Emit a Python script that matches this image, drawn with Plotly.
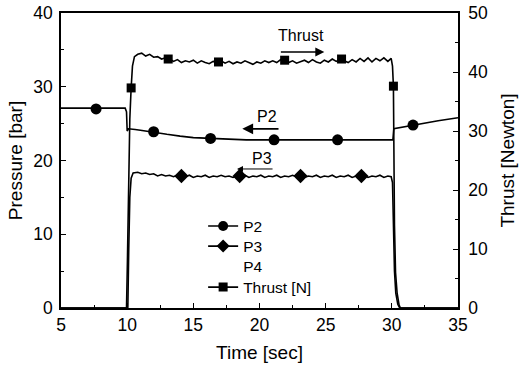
import plotly.graph_objects as go

# ---- data ----
thrust_t = [5.0, 9.95, 10.02, 10.1, 10.2, 10.3, 10.4, 10.55, 10.8, 11.1, 11.4, 11.7, 12.0, 12.3, 12.6,
            12.9, 13.2, 13.5, 13.8, 14.1, 14.4, 14.7, 15.0, 15.3, 15.6, 15.9, 16.2, 16.5, 16.8,
            17.1, 17.4, 17.7, 18.0, 18.3, 18.6, 18.9, 19.2, 19.5, 19.8, 20.1, 20.4, 20.7, 21.0,
            21.3, 21.6, 21.9, 22.2, 22.5, 22.8, 23.1, 23.4, 23.7, 24.0, 24.3, 24.6, 24.9, 25.2,
            25.5, 25.8, 26.1, 26.4, 26.7, 27.0, 27.3, 27.6, 27.9, 28.2, 28.5, 28.8, 29.1, 29.4,
            29.7, 29.95, 30.05, 30.12, 30.15, 30.2, 30.28, 30.4, 30.55, 30.65, 35.0]
thrust_v = [0, 0, 8, 22, 32, 37.3, 41.0, 42.6, 43.0, 43.2, 42.7, 43.0, 42.5, 42.6, 42.2,
            42.4, 42.2, 41.8, 42.1, 41.6, 41.9, 41.7, 42.0, 41.5, 41.9, 41.6, 41.4, 41.8, 41.7,
            41.9, 41.5, 41.8, 41.4, 41.7, 41.5, 41.9, 41.6, 41.3, 41.7, 41.5, 41.9, 41.6, 41.9,
            41.6, 42.1, 42.0, 41.6, 41.9, 41.5, 41.8, 42.0, 41.6, 42.1, 41.7, 41.5, 42.0, 41.7,
            42.2, 41.8, 42.2, 41.9, 41.6, 42.1, 41.7, 42.3, 41.8, 42.4, 41.7, 42.3, 41.9, 42.4,
            41.8, 42.3, 41.0, 37.6, 25.0, 14.0, 6.0, 2.5, 0.5, 0, 0]
thrust_mark_t = [10.3, 13.1, 16.9, 21.9, 26.2, 30.12]
thrust_mark_v = [37.3, 42.2, 41.7, 42.0, 42.2, 37.6]

p2_t = [5.0, 9.85, 9.95, 10.0, 10.1, 10.3, 10.6, 11.0, 11.5, 12.0, 12.5, 13.0, 13.5, 14.0, 15.0,
        16.0, 17.0, 18.0, 19.0, 20.0, 22.0, 24.0, 26.0, 28.0, 30.0, 30.08, 30.15, 31.0, 31.6,
        32.5, 33.5, 35.0]
p2_v = [27.1, 27.1, 26.6, 24.0, 24.3, 24.3, 24.2, 24.1, 24.0, 23.85, 23.7, 23.55, 23.4, 23.3, 23.1,
        23.0, 22.9, 22.85, 22.8, 22.8, 22.8, 22.8, 22.8, 22.8, 22.8, 22.8, 24.3, 24.6, 24.8,
        25.1, 25.4, 25.8]
p2_mark_t = [7.65, 12.0, 16.3, 21.1, 25.9, 31.6]
p2_mark_v = [27.0, 23.9, 23.0, 22.8, 22.8, 24.8]

p3_t = [5.0, 10.05, 10.12, 10.2, 10.3, 10.45, 10.8, 11.1, 11.4, 11.7, 12.0, 12.3, 12.6, 12.9,
        13.2, 13.5, 13.8, 14.1, 14.4, 14.7, 15.0, 15.3, 15.6, 15.9, 16.2, 16.5, 16.8, 17.1,
        17.4, 17.7, 18.0, 18.3, 18.6, 18.9, 19.2, 19.5, 19.8, 20.1, 20.4, 20.7, 21.0, 21.3,
        21.6, 21.9, 22.2, 22.5, 22.8, 23.1, 23.4, 23.7, 24.0, 24.3, 24.6, 24.9, 25.2, 25.5,
        25.8, 26.1, 26.4, 26.7, 27.0, 27.3, 27.6, 27.9, 28.2, 28.5, 28.8, 29.1, 29.4, 29.7,
        29.95, 30.05, 30.12, 30.2, 30.3, 30.45, 30.6, 35.0]
p3_v = [0, 0, 8, 15, 17.6, 18.3, 18.4, 18.2, 18.3, 18.1, 18.2, 17.9, 18.1, 17.9,
        18.0, 17.8, 18.0, 17.9, 17.8, 18.0, 17.7, 17.9, 17.8, 18.0, 17.7, 17.9, 17.8, 18.0,
        17.8, 17.9, 17.7, 17.9, 17.8, 18.0, 17.7, 17.9, 17.8, 18.0, 17.7, 17.9, 17.8, 18.0,
        17.7, 17.9, 17.8, 18.0, 17.8, 17.9, 17.7, 17.9, 17.8, 18.0, 17.7, 17.9, 17.8, 18.0,
        17.7, 17.9, 17.8, 18.0, 17.7, 17.9, 17.8, 18.0, 17.7, 17.9, 17.8, 18.0, 17.7, 17.9,
        17.8, 17.0, 10.0, 5.0, 2.0, 0.5, 0, 0]
p3_mark_t = [14.1, 18.5, 23.1, 27.7]
p3_mark_v = [17.9, 17.9, 17.9, 17.9]

legend_names = ["P2", "P3", "P4", "Thrust [N]"]
x_ticks = [5, 10, 15, 20, 25, 30, 35]
p_ticks = [0, 10, 20, 30, 40]
f_ticks = [0, 10, 20, 30, 40, 50]

FONT = "Liberation Sans, Arial, sans-serif"
K = "black"
LW = 1.6

fig = go.Figure()
# curves
fig.add_trace(go.Scatter(x=p2_t, y=p2_v, mode="lines", line=dict(color=K, width=LW), showlegend=False))
fig.add_trace(go.Scatter(x=p3_t, y=p3_v, mode="lines", line=dict(color=K, width=LW), showlegend=False))
fig.add_trace(go.Scatter(x=thrust_t, y=thrust_v, mode="lines", line=dict(color=K, width=LW),
                         yaxis="y2", showlegend=False))
# markers
fig.add_trace(go.Scatter(x=p2_mark_t, y=p2_mark_v, mode="markers",
                         marker=dict(symbol="circle", size=11, color=K), showlegend=False))
fig.add_trace(go.Scatter(x=p3_mark_t, y=p3_mark_v, mode="markers",
                         marker=dict(symbol="diamond", size=11, color=K), showlegend=False))
fig.add_trace(go.Scatter(x=thrust_mark_t, y=thrust_mark_v, mode="markers", yaxis="y2",
                         marker=dict(symbol="square", size=9, color=K), showlegend=False))
# legend entries (one small legend each so the rows sit where the reference has them)
fig.add_trace(go.Scatter(x=[None], y=[None], mode="lines+markers", name=legend_names[0], legend="legend",
                         line=dict(color=K, width=LW), marker=dict(symbol="circle", size=10, color=K)))
fig.add_trace(go.Scatter(x=[None], y=[None], mode="lines+markers", name=legend_names[1], legend="legend2",
                         line=dict(color=K, width=LW), marker=dict(symbol="diamond", size=10, color=K)))
fig.add_trace(go.Scatter(x=[None], y=[None], mode="lines", name=legend_names[2], legend="legend3",
                         line=dict(color="rgba(0,0,0,0)", width=LW)))
fig.add_trace(go.Scatter(x=[None], y=[None], mode="lines+markers", name=legend_names[3], legend="legend4",
                         line=dict(color=K, width=LW), marker=dict(symbol="square", size=9, color=K)))

# annotations: arrows and labels
arrows = [  # (head_x, tail_x, y, width)
    (24.9, 21.5, 34.7, 1.5),
    (18.7, 21.55, 24.3, 1.8),
    (18.3, 21.1, 18.85, 1.0),
]
for hx, tx, yy, w in arrows:
    fig.add_annotation(x=hx, y=yy, ax=tx, ay=yy, xref="x", yref="y", axref="x", ayref="y",
                       text="", showarrow=True, arrowhead=2, arrowsize=1.2, arrowwidth=w,
                       arrowcolor=K, standoff=0, startstandoff=0)
labels = [("Thrust", 23.1, 37.0), ("P2", 20.6, 26.0), ("P3", 20.2, 20.3)]
for txt, lx, ly in labels:
    fig.add_annotation(x=lx, y=ly, xref="x", yref="y", text=txt, showarrow=False,
                       font=dict(family=FONT, size=16, color=K))

axis_common = dict(showgrid=False, zeroline=False, showline=True, linecolor=K, linewidth=1.5,
                   ticks="inside", ticklen=5, tickwidth=1, tickcolor=K, automargin=False,
                   tickfont=dict(family=FONT, size=17.5, color=K))
TF = dict(family=FONT, size=19, color=K)

def leg(ypos):
    return dict(x=0.358, y=ypos, xanchor="left", yanchor="top", bgcolor="rgba(0,0,0,0)",
                font=dict(family=FONT, size=15.5, color=K), borderwidth=0)

fig.update_layout(
    width=522, height=366,
    margin=dict(l=61, r=64, t=13, b=58),
    paper_bgcolor="white", plot_bgcolor="white",
    font=dict(family=FONT, color=K),
    xaxis=dict(range=[5, 35], tickvals=x_ticks, mirror=True,
               minor=dict(dtick=2.5, ticks="inside", ticklen=3, tickcolor=K),
               title=dict(text="Time [sec]", font=TF, standoff=12),
               **axis_common),
    yaxis=dict(range=[0, 40], tickvals=p_ticks,
               minor=dict(dtick=5, ticks="inside", ticklen=3, tickcolor=K),
               title=dict(text="Pressure [bar]", font=TF, standoff=6),
               ticklabelstandoff=3,
               **axis_common),
    yaxis2=dict(range=[0, 50], tickvals=f_ticks, overlaying="y", side="right",
                minor=dict(dtick=5, ticks="inside", ticklen=3, tickcolor=K),
                title=dict(text="Thrust [Newton]", font=TF, standoff=14),
                ticklabelstandoff=5,
                **axis_common),
    legend=leg(0.334),
    legend2=leg(0.266),
    legend3=leg(0.199),
    legend4=leg(0.127),
    showlegend=True,
)

fig.write_html("out.html")
